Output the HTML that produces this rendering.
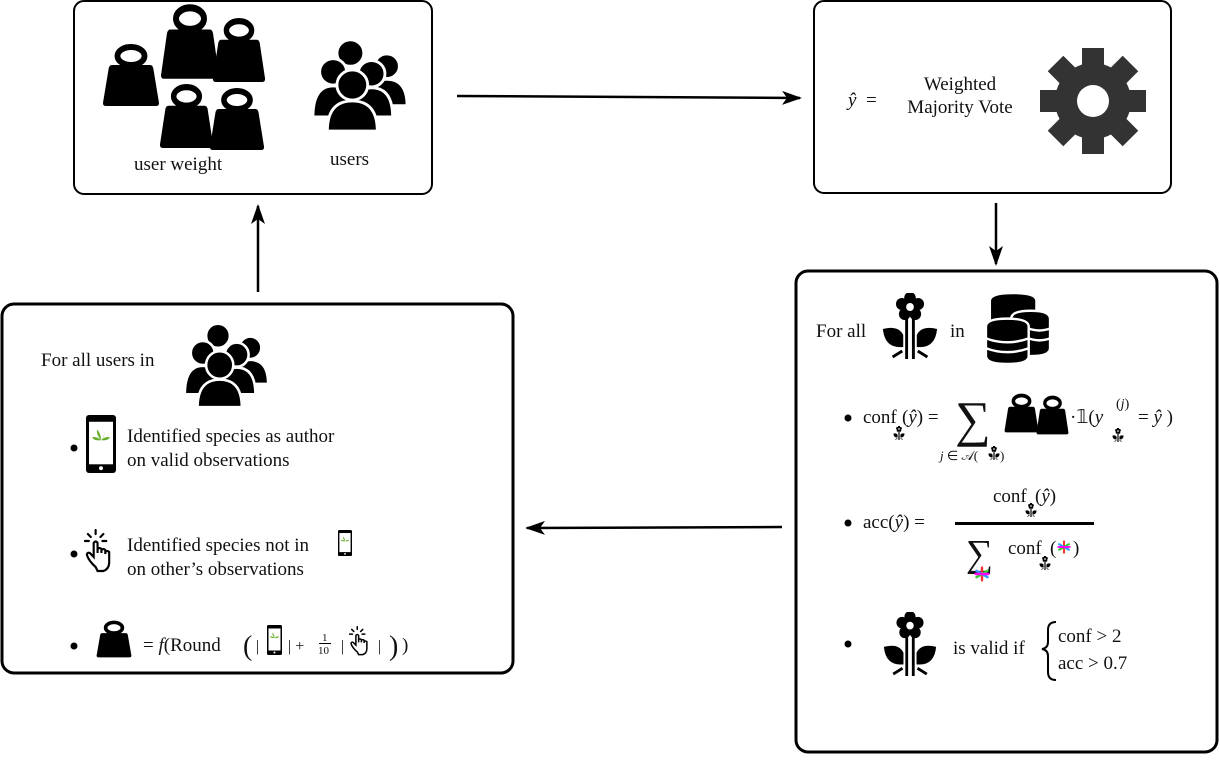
<!DOCTYPE html>
<html><head><meta charset="utf-8"><style>
body{margin:0;background:#fff}
svg text{font-family:"Liberation Serif",serif;fill:#111}
</style></head><body>
<svg width="1220" height="755" viewBox="0 0 1220 755" xmlns="http://www.w3.org/2000/svg">
<defs>
<symbol id="wt" viewBox="0 0 60 64" preserveAspectRatio="none">
<ellipse cx="30" cy="13" rx="14" ry="9" fill="none" stroke="#000" stroke-width="6"/>
<path d="M10 22 Q8 22 7 25 L1 60 Q1 63 4 63 L56 63 Q59 63 59 60 L53 25 Q52 22 50 22 Z" fill="#000"/>
</symbol>
<symbol id="usr" viewBox="0 0 100 100" preserveAspectRatio="none">
<g stroke="#fff" stroke-width="3" fill="#000">
<circle cx="78" cy="30" r="13"/><path d="M56 72 Q56 44 78 44 Q99 44 99 72 Z"/>
<circle cx="40" cy="16" r="14"/>
<circle cx="22" cy="36" r="14"/><path d="M1 84 Q1 51 22 51 Q43 51 43 84 Z"/>
<circle cx="62" cy="38" r="14"/><path d="M40 84 Q40 53 62 53 Q84 53 84 84 Z"/>
<circle cx="42" cy="50" r="16"/><path d="M16 99 Q16 67 42 67 Q68 67 68 99 Z"/>
</g></symbol>
<symbol id="flw" viewBox="0 0 60 66" preserveAspectRatio="none">
<g fill="#000"><circle cx="30" cy="14" r="8"/>
<g transform="translate(30 14)"><circle cx="0" cy="-9" r="6"/><circle cx="8.5" cy="-3" r="6"/><circle cx="5.5" cy="7" r="6"/><circle cx="-5.5" cy="7" r="6"/><circle cx="-8.5" cy="-3" r="6"/></g>
<circle cx="30" cy="14" r="4" fill="#fff"/>
<rect x="25" y="26" width="3" height="40"/><rect x="32" y="26" width="3" height="40"/>
<path d="M23 54 Q4 56 2 36 Q18 32 23 42 Z"/><path d="M37 54 Q56 56 58 36 Q42 32 37 42 Z"/>
<path d="M22 58 L12 64 M38 58 L48 64" stroke="#000" stroke-width="3"/></g></symbol>
<symbol id="phone" viewBox="0 0 30 60" preserveAspectRatio="none">
<rect x="0" y="0" width="30" height="60" rx="3" fill="#000"/><rect x="3" y="7" width="24" height="44" fill="#fff"/>
<circle cx="15" cy="55" r="2" fill="#fff"/>
<path d="M15 26 Q10 20 11 15 Q15 19 15 26 Q20 19 19 15 Q20 20 15 26 Q8 27 6 23 Q11 22 15 26 Q22 27 24 23 Q19 22 15 26Z" fill="#6aad2a"/>
</symbol>
<symbol id="hand" viewBox="0 0 32 44" preserveAspectRatio="none">
<g fill="none" stroke="#000" stroke-width="2.2" stroke-linecap="round">
<path d="M12 38 Q5 32 3 26 Q3 23 6 24 L10 28 L10 14 Q12 11 14 14 L14 24 L14 20 Q16 18 18 20 L18 24 L18 21 Q20 19 22 21 L22 25 L22 23 Q24 21 26 23 L26 33 Q26 40 20 42 L14 42 Z"/>
<path d="M12 1 L12 5 M4 5 L7 8 M20 5 L17 8 M1 12 L5 12 M19 12 L23 12"/></g></symbol>
<symbol id="db" viewBox="0 0 70 72" preserveAspectRatio="none">
<g fill="#000" stroke="#fff" stroke-width="2.5">
<path d="M6 8 Q6 0 30 0 Q54 0 54 8 L54 30 Q54 38 30 38 Q6 38 6 30 Z"/>
<path d="M28 26 Q28 18 48 18 Q68 18 68 26 L68 56 Q68 64 48 64 Q28 64 28 56 Z"/>
<path d="M2 34 Q2 26 24 26 Q46 26 46 34 L46 64 Q46 72 24 72 Q2 72 2 64 Z"/>
<path d="M2 46 Q24 54 46 46 M2 56 Q24 64 46 56 M46 36 Q57 40 68 36 M46 46 Q57 50 68 46" fill="none"/>
</g></symbol>
<symbol id="star" viewBox="0 0 20 20">
<g stroke-width="3" stroke-linecap="round"><path d="M10 2 L10 18" stroke="#e33"/><path d="M3 6 L17 14" stroke="#39f"/><path d="M17 6 L3 14" stroke="#3c3"/><path d="M2 10 L18 10" stroke="#f0f"/></g></symbol>
<marker id="ar" markerWidth="20" markerHeight="14" refX="18" refY="7" orient="auto" markerUnits="userSpaceOnUse"><path d="M0 0 L20 7 L0 14 L5 7Z" fill="#000"/></marker>
</defs>

<rect x="74" y="1" width="358" height="193" rx="10" fill="none" stroke="#000" stroke-width="2"/>
<rect x="814" y="1" width="357" height="192" rx="10" fill="none" stroke="#000" stroke-width="2"/>
<rect x="796" y="271" width="421" height="481" rx="12" fill="none" stroke="#000" stroke-width="3"/>
<rect x="2" y="304" width="511" height="369" rx="12" fill="none" stroke="#000" stroke-width="3"/>

<line x1="457" y1="96" x2="800" y2="98" stroke="#000" stroke-width="2.5" marker-end="url(#ar)"/>
<line x1="996" y1="203" x2="996" y2="264" stroke="#000" stroke-width="2.5" marker-end="url(#ar)"/>
<line x1="782" y1="527" x2="527" y2="528" stroke="#000" stroke-width="2.5" marker-end="url(#ar)"/>
<line x1="258" y1="292" x2="258" y2="206" stroke="#000" stroke-width="2.5" marker-end="url(#ar)"/>

<use href="#wt" x="102" y="43" width="58" height="64"/>
<use href="#wt" x="160" y="3" width="60" height="77"/>
<use href="#wt" x="212" y="17" width="54" height="66"/>
<use href="#wt" x="159" y="83" width="55" height="66"/>
<use href="#wt" x="209" y="87" width="56" height="64"/>
<use href="#usr" x="312" y="38" width="96" height="94"/>
<text x="134" y="170" font-size="19">user weight</text>
<text x="330" y="165" font-size="19">users</text>

<text x="848" y="106" font-size="19" font-style="italic">ŷ</text><text x="866" y="106" font-size="19">=</text>
<text x="960" y="90" font-size="19" text-anchor="middle">Weighted</text>
<text x="960" y="113" font-size="19" text-anchor="middle">Majority Vote</text>
<g transform="translate(1093 101)" fill="#333">
<circle r="38"/>
<g id="teeth"><rect x="-11" y="-53" width="22" height="22"/><rect x="-11" y="31" width="22" height="22"/><rect x="-53" y="-11" width="22" height="22"/><rect x="31" y="-11" width="22" height="22"/></g>
<use href="#teeth" transform="rotate(45)"/>
<circle r="16" fill="#fff"/>
</g>

<text x="816" y="337" font-size="19">For all</text>
<use href="#flw" x="881" y="293" width="58" height="66"/>
<text x="950" y="337" font-size="19">in</text>
<use href="#db" x="984" y="293" width="68" height="71"/>

<circle cx="848" cy="418" r="3.5" fill="#000"/>
<text x="863" y="423" font-size="19">conf</text>
<use href="#flw" x="893" y="426" width="12" height="14"/>
<text x="902" y="423" font-size="19">(<tspan font-style="italic">ŷ</tspan>) =</text>
<text x="955" y="436" font-size="50">∑</text>
<use href="#wt" x="1004" y="393" width="35" height="40"/>
<use href="#wt" x="1036" y="395" width="33" height="40"/>
<text x="1070" y="423" font-size="19">·𝟙(<tspan font-style="italic">y</tspan></text>
<text x="1116" y="408" font-size="14">(<tspan font-style="italic">j</tspan>)</text>
<use href="#flw" x="1112" y="428" width="12" height="14"/>
<text x="1138" y="423" font-size="19">= <tspan font-style="italic">ŷ</tspan> )</text>
<text x="940" y="460" font-size="13"><tspan font-style="italic">j</tspan> ∈ 𝒜(</text>
<use href="#flw" x="988" y="446" width="12" height="14"/>
<text x="1000" y="460" font-size="13">)</text>

<circle cx="848" cy="523" r="3.5" fill="#000"/>
<text x="863" y="528" font-size="19">acc(<tspan font-style="italic">ŷ</tspan>) =</text>
<text x="993" y="502" font-size="19">conf</text>
<use href="#flw" x="1025" y="503" width="12" height="14"/>
<text x="1035" y="502" font-size="19">(<tspan font-style="italic">ŷ</tspan>)</text>
<rect x="955" y="522" width="139" height="3" fill="#000"/>
<text x="966" y="566" font-size="38">∑</text>
<use href="#star" x="974" y="566" width="16" height="16"/>
<text x="1008" y="554" font-size="19">conf</text>
<use href="#flw" x="1039" y="556" width="12" height="14"/>
<text x="1050" y="554" font-size="19">(</text>
<use href="#star" x="1057" y="540" width="14" height="14"/>
<text x="1073" y="554" font-size="19">)</text>

<circle cx="848" cy="644" r="3.5" fill="#000"/>
<use href="#flw" x="882" y="612" width="56" height="64"/>
<text x="953" y="654" font-size="19">is valid if</text>
<path d="M1056 622 Q1048 622 1048 630 L1048 642 Q1048 648 1042 649 Q1048 650 1048 656 L1048 672 Q1048 680 1056 680" fill="none" stroke="#000" stroke-width="2"/>
<text x="1058" y="642" font-size="19">conf &gt; 2</text>
<text x="1058" y="669" font-size="19">acc &gt; 0.7</text>

<text x="41" y="366" font-size="19">For all users in</text>
<use href="#usr" x="184" y="322" width="85" height="86"/>
<circle cx="74" cy="448" r="3.5" fill="#000"/>
<use href="#phone" x="86" y="415" width="30" height="58"/>
<text x="127" y="442" font-size="19">Identified species as author</text>
<text x="127" y="466" font-size="19">on valid observations</text>
<circle cx="74" cy="554" r="3.5" fill="#000"/>
<use href="#hand" x="84" y="529" width="31" height="44"/>
<text x="127" y="551" font-size="19">Identified species not in</text>
<use href="#phone" x="338" y="530" width="14" height="26"/>
<text x="127" y="575" font-size="19">on other’s observations</text>
<circle cx="74" cy="646" r="3.5" fill="#000"/>
<use href="#wt" x="96" y="620" width="36" height="38"/>
<text x="143" y="651" font-size="19">= <tspan font-style="italic">f</tspan>(Round</text>
<text x="243" y="655" font-size="28">(</text>
<text x="256" y="651" font-size="16">|</text>
<use href="#phone" x="267" y="625" width="15" height="30"/>
<text x="288" y="651" font-size="16">| +</text>
<text x="322" y="641" font-size="11">1</text><rect x="319" y="643" width="12" height="1" fill="#000"/><text x="318" y="654" font-size="11">10</text>
<text x="341" y="651" font-size="16">|</text>
<use href="#hand" x="349" y="626" width="22" height="30"/>
<text x="378" y="651" font-size="16">|</text>
<text x="389" y="655" font-size="28">)</text>
<text x="402" y="651" font-size="19">)</text>
</svg>
</body></html>
